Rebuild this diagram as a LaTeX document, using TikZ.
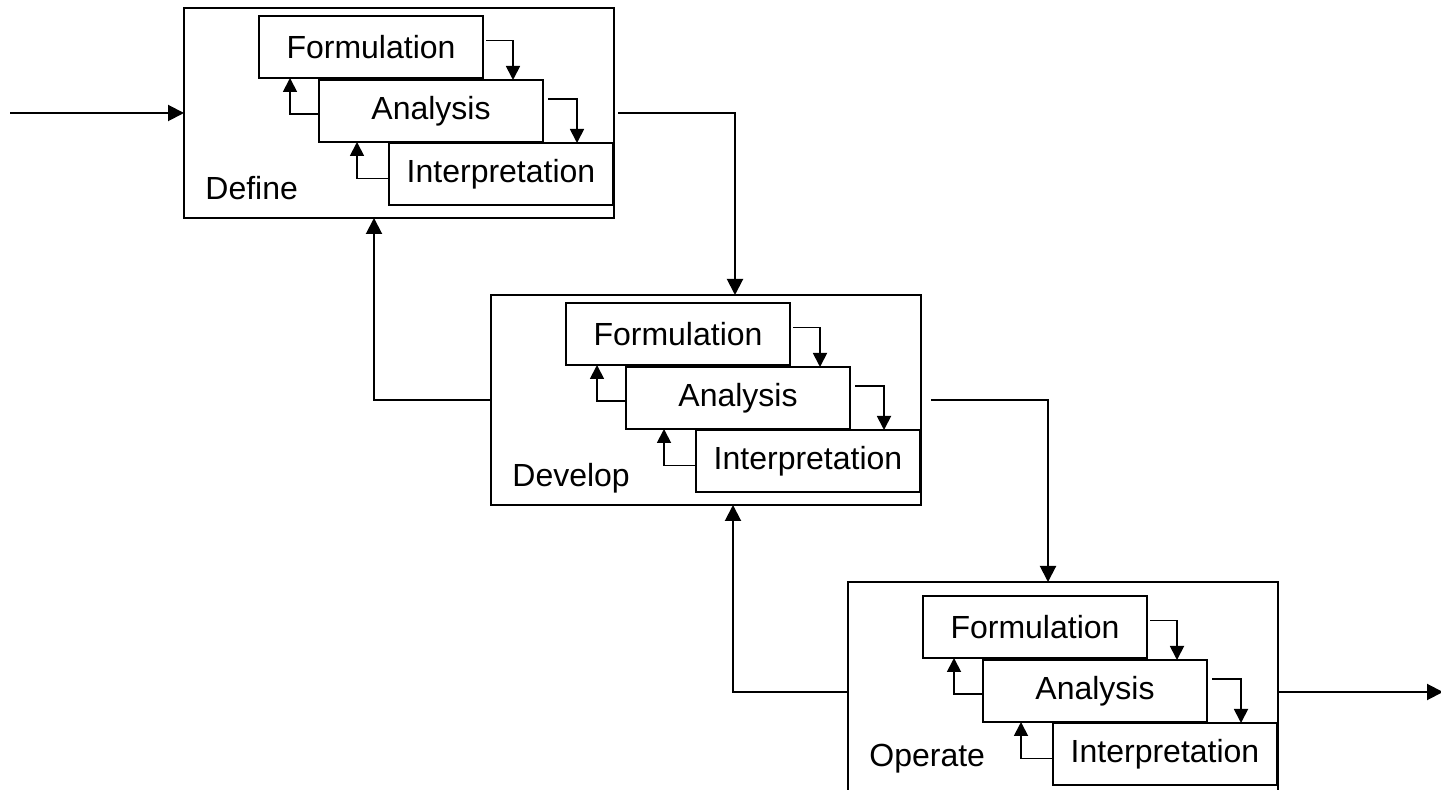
\documentclass[tikz,border=0pt]{standalone}
\usepackage{fontspec}
\setmainfont{Liberation Sans}
\usetikzlibrary{arrows.meta,calc}
\tikzset{
  arr/.style={-{Triangle[length=7pt,width=7pt]}, line width=0.9pt},
  mainarr/.style={-{Triangle[length=8pt,width=8pt]}, line width=1pt},
  outerbox/.style={draw, line width=1pt, rectangle, anchor=north west, inner sep=0pt, outer sep=0pt, minimum width=215pt, minimum height=105pt},
  stepbox/.style={draw, line width=0.9pt, rectangle, anchor=north west, inner sep=0pt, outer sep=0pt, minimum width=112pt, minimum height=31pt, font=\fontsize{16}{19}\selectfont},
  lbl/.style={anchor=base west, inner sep=0pt, font=\fontsize{16}{19}\selectfont},
  outertop/.store in=\outertop, outertop=0,
  labely/.store in=\labely, labely=192,
  stage/.pic={
    \node[outerbox] (-outer) at (0,\outertop) {};
    \node[stepbox] (-f) at (75,8) {Formulation};
    \node[stepbox] (-a) at (135,72) {Analysis};
    \node[stepbox] (-i) at (205,135) {Interpretation};
    \node[lbl] (-l) at (21,\labely) {#1};
    \draw[arr] ([xshift=1.5pt,yshift=3.25pt]-f.east) -| ([xshift=-15pt]-a.north east);
    \draw[arr] ([xshift=2.5pt,yshift=6pt]-a.east) -| ([xshift=-18pt]-i.north east);
    \draw[arr] ([yshift=-1.5pt]-a.west) -| ([xshift=15.5pt]-f.south west);
    \draw[arr] ([yshift=-2.25pt]-i.west) -| ([xshift=19pt]-a.south west);
  }
}
\begin{document}
\begin{tikzpicture}[x=0.5pt,y=-0.5pt]
  \useasboundingbox (0,0) rectangle (1441,790);
  \pic (def) at (184,8) {stage=Define};
  \pic (dev) at (491,295) {stage=Develop};
  \pic[outertop=-6, labely=179] (op) at (848,588) {stage=Operate};
  \coordinate (in) at (10,113);
  \coordinate (out) at (1443,692);
  \draw[mainarr] (in) -- (def-outer.west);
  \draw[mainarr] ([xshift=2pt]def-outer.east) -| ([xshift=14.5pt]dev-outer.north);
  \draw[mainarr] (dev-outer.west) -| ([xshift=-12.5pt]def-outer.south);
  \draw[mainarr] ([xshift=5pt]dev-outer.east) -| ([xshift=-7.5pt]op-outer.north);
  \draw[mainarr] ([yshift=-2.5pt]op-outer.west) -| ([xshift=13.5pt]dev-outer.south);
  \draw[mainarr] ([yshift=-2.5pt]op-outer.east) -- (out);
\end{tikzpicture}
\end{document}
